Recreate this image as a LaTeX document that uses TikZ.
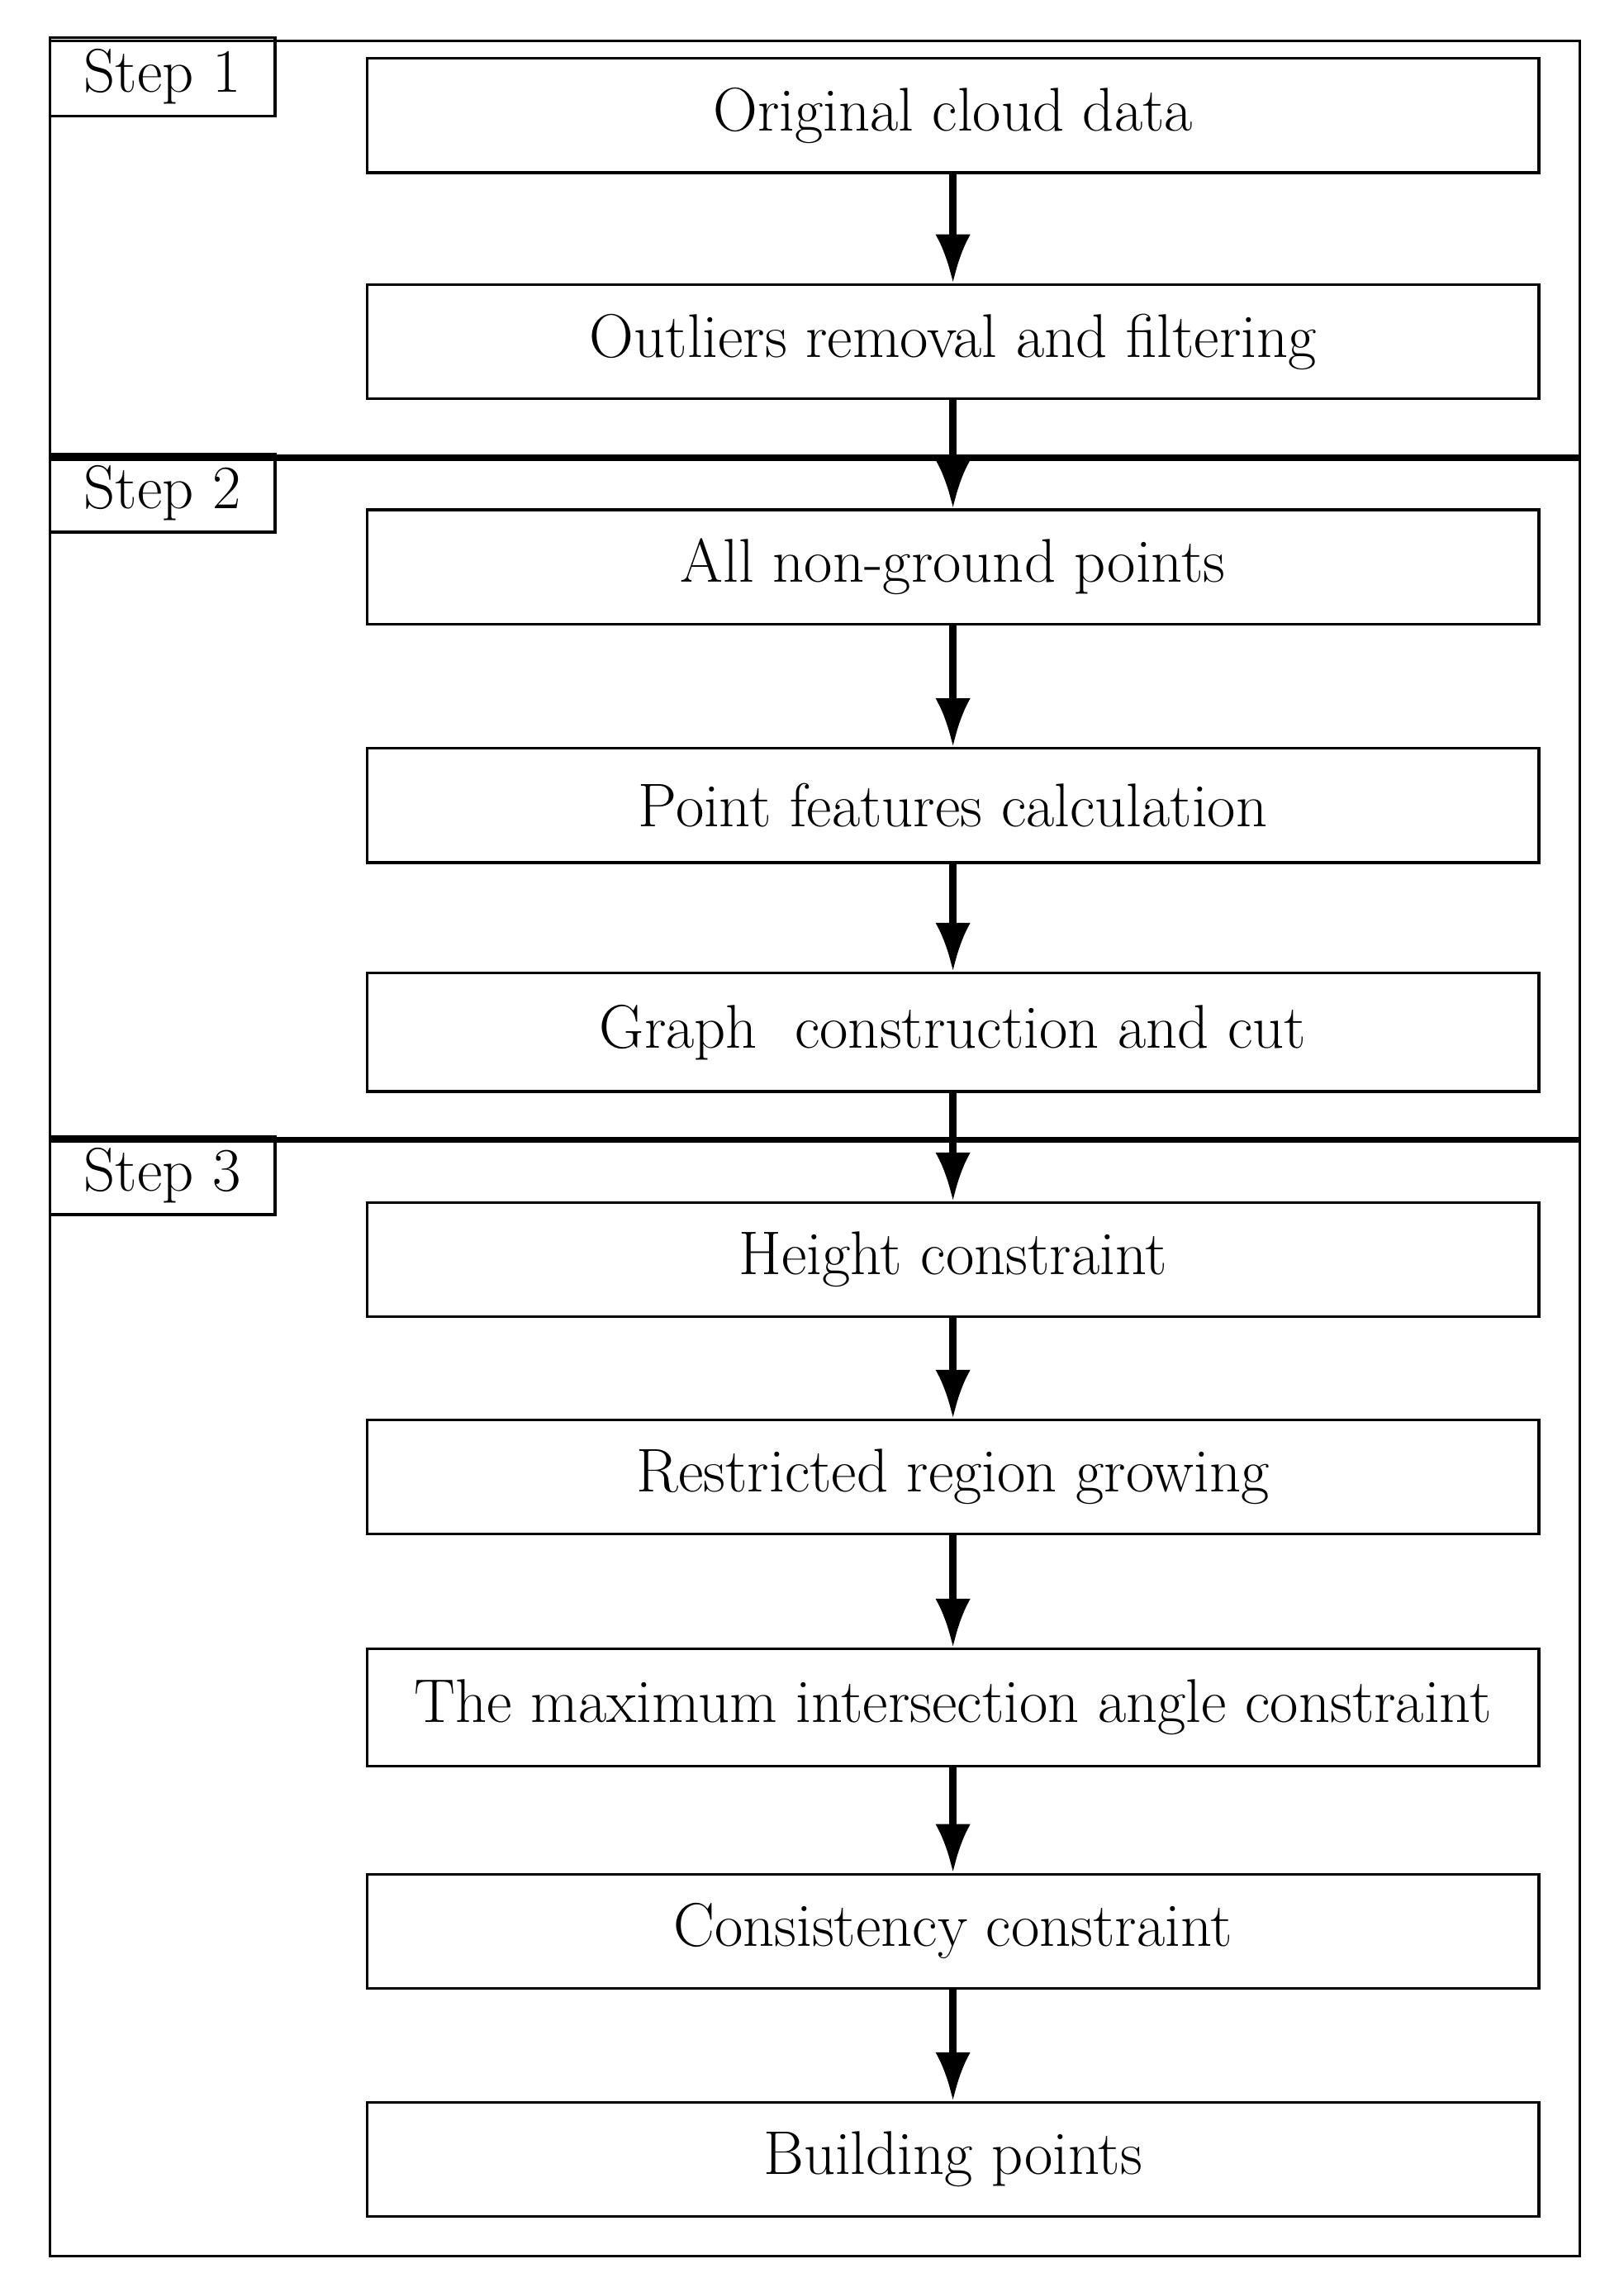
\documentclass[tikz,border=0pt]{standalone}
\usetikzlibrary{arrows.meta}
\tikzset{
  stepbox/.style={draw, line width=0.8pt, minimum width=12.015cm, minimum height=1.17cm, font=\fontsize{18}{22}\selectfont},
  steplabel/.style={draw, line width=0.8pt, minimum width=2.31cm, minimum height=0.735cm, font=\fontsize{18}{22}\selectfont},
  flow/.style={line width=2pt, -{Latex[length=5mm,width=3.6mm]}}
}
\begin{document}
\begin{tikzpicture}[x=0.015cm,y=-0.015cm]
\useasboundingbox (0,0) rectangle (1110,1557);
% outer frame and separators
\draw[line width=0.8pt] (34,28) rectangle (1080,1542);
\draw[line width=1.8pt] (34,313)--(1080,313);
\draw[line width=1.8pt] (34,779)--(1080,779);
% step labels
\node[steplabel] (s1) at (111,52.5) {Step 1};
\node[steplabel] (s2) at (111,337) {Step 2};
\node[steplabel] (s3) at (111,803.5) {Step 3};
% boxes
\node[stepbox] (orig) at (651.5,79) {Original cloud data};
\node[stepbox] (outl) at (651.5,233.5) {Outliers removal and filtering};
\node[stepbox] (nong) at (651.5,387.5) {All non-ground points};
\node[stepbox] (feat) at (651.5,550.5) {Point features calculation};
\node[stepbox, minimum height=1.215cm] (graph) at (651.5,705.5) {Graph\ \ construction and cut};
\node[stepbox] (height) at (651.5,861) {Height constraint};
\node[stepbox] (grow) at (651.5,1009.5) {Restricted region growing};
\node[stepbox, minimum height=1.2cm] (angle) at (651.5,1167) {The maximum intersection angle constraint};
\node[stepbox] (cons) at (651.5,1320) {Consistency constraint};
\node[stepbox] (build) at (651.5,1476) {Building points};
% arrows
\draw[flow] (orig)--(outl);
\draw[flow] (outl)--(nong);
\draw[flow] (nong)--(feat);
\draw[flow] (feat)--(graph);
\draw[flow] (graph)--(height);
\draw[flow] (height)--(grow);
\draw[flow] (grow)--(angle);
\draw[flow] (angle)--(cons);
\draw[flow] (cons)--(build);
\end{tikzpicture}
\end{document}
